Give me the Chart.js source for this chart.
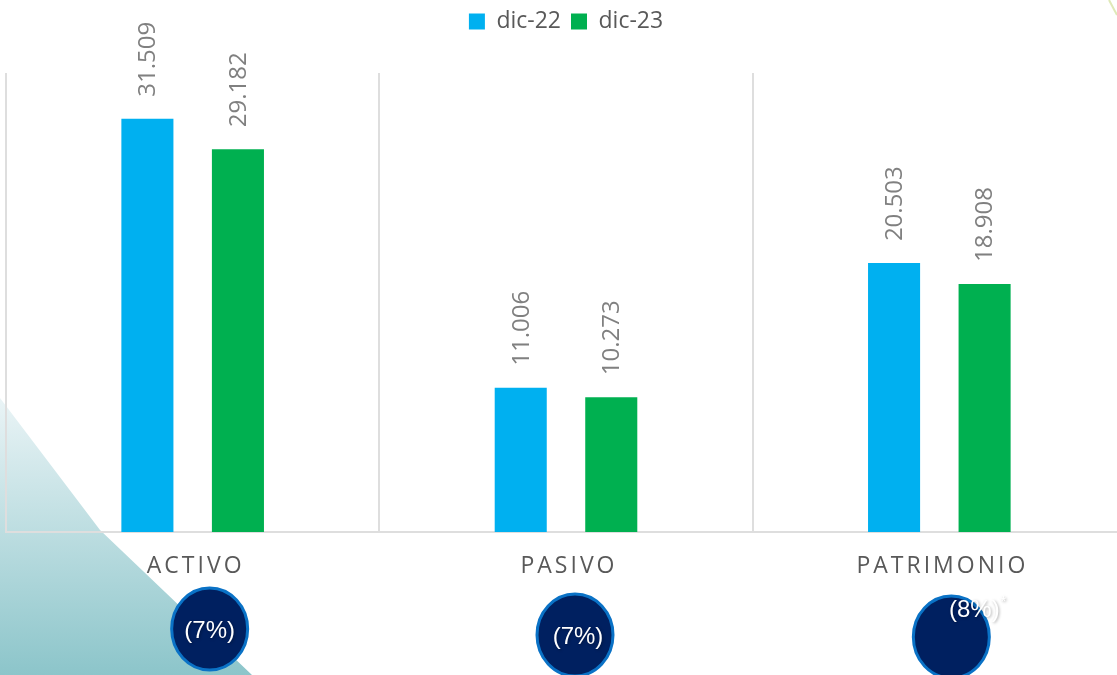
<!DOCTYPE html>
<html>
<head>
<meta charset="utf-8">
<script src="https://cdn.jsdelivr.net/npm/chart.js@4.4.1/dist/chart.umd.min.js"></script>
<style>
  html, body { margin: 0; padding: 0; background: #fff; overflow: hidden; }
  #wrap { width: 1134px; height: 675px; }
</style>
</head>
<body>
<div id="wrap"><canvas id="balance-chart" width="1134" height="675"></canvas></div>
<script>
// Datos del grafico
const categorias = ['ACTIVO', 'PASIVO', 'PATRIMONIO'];
const dic22 = [31.509, 11.006, 20.503];
const dic23 = [29.182, 10.273, 18.908];
const variaciones = ['(7%)', '(7%)', '(8%)'];
const notas = ['', '', '*'];

// Fondo: triangulo degradado abajo a la izquierda
const fondoPlugin = {
  id: 'fondo',
  beforeDraw(chart) {
    const ctx = chart.ctx;
    ctx.save();
    const grad = ctx.createLinearGradient(0, 398, 0, 675);
    grad.addColorStop(0, '#eaf4f6');
    grad.addColorStop(1, '#8cc5ca');
    ctx.fillStyle = grad;
    ctx.beginPath();
    ctx.moveTo(0, 398);
    ctx.lineTo(100, 530);
    ctx.lineTo(252, 675);
    ctx.lineTo(0, 675);
    ctx.closePath();
    ctx.fill();
    // linea fina arriba a la derecha
    ctx.strokeStyle = '#dfe9b8';
    ctx.lineWidth = 2;
    ctx.beginPath();
    ctx.moveTo(1109, 0);
    ctx.lineTo(1117, 15);
    ctx.stroke();
    ctx.restore();
  }
};

// Espacio extra bajo la leyenda
const leyendaPlugin = {
  id: 'leyendaAlto',
  beforeInit(chart) {
    const fit = chart.legend.fit;
    chart.legend.fit = function() {
      fit.bind(chart.legend)();
      this.height = 73;
    };
  }
};

// Etiquetas de valor rotadas sobre cada barra
const etiquetasPlugin = {
  id: 'etiquetas',
  afterDatasetsDraw(chart) {
    const ctx = chart.ctx;
    ctx.save();
    ctx.font = '24px "Open Sans"';
    ctx.fillStyle = '#808080';
    ctx.textAlign = 'left';
    ctx.textBaseline = 'middle';
    chart.data.datasets.forEach((ds, i) => {
      chart.getDatasetMeta(i).data.forEach((bar, j) => {
        ctx.save();
        ctx.translate(bar.x, bar.y - 22);
        ctx.rotate(-Math.PI / 2);
        ctx.fillText(ds.data[j].toFixed(3), 0, 1);
        ctx.restore();
      });
    });
    ctx.restore();
  }
};

// Nombres de categoria y circulos de variacion
const categoriasPlugin = {
  id: 'categorias',
  afterDraw(chart) {
    const ctx = chart.ctx;
    const x = chart.scales.x;
    const base = chart.chartArea.bottom;
    ctx.save();
    ctx.font = '23px "Open Sans"';
    ctx.fillStyle = '#595959';
    ctx.textAlign = 'center';
    ctx.textBaseline = 'middle';
    ctx.letterSpacing = '3px';
    categorias.forEach((c, i) => {
      ctx.fillText(c, x.getPixelForValue(i) + 3, base + 34);
    });
    ctx.letterSpacing = '0px';

    const desplaz = [[17, 97, 0, 0], [9, 103, 3, 0], [12, 105, 23, -29]];
    variaciones.forEach((v, i) => {
      const d = desplaz[i];
      const cx = x.getPixelForValue(i) + d[0];
      const cy = base + d[1];
      ctx.beginPath();
      ctx.ellipse(cx, cy, 38, 41, 0, 0, Math.PI * 2);
      ctx.fillStyle = '#002060';
      ctx.fill();
      ctx.lineWidth = 3;
      ctx.strokeStyle = '#0a72c6';
      ctx.stroke();
    });
    ctx.font = '24px "Liberation Sans"';
    ctx.fillStyle = '#ffffff';
    ctx.shadowColor = 'rgba(0,0,0,0.35)';
    ctx.shadowBlur = 3;
    ctx.shadowOffsetX = 1;
    ctx.shadowOffsetY = 1;
    variaciones.forEach((v, i) => {
      const d = desplaz[i];
      const tx = x.getPixelForValue(i) + d[0] + d[2];
      const ty = base + d[1] + d[3] + 2;
      ctx.textAlign = 'center';
      ctx.fillText(v, tx, ty);
      if (notas[i]) {
        const w = ctx.measureText(v).width;
        ctx.font = '14px "Liberation Sans"';
        ctx.textAlign = 'left';
        ctx.fillText(notas[i], tx + w / 2 + 1, ty - 8);
        ctx.font = '24px "Liberation Sans"';
      }
    });
    ctx.restore();
  }
};

const ctx = document.getElementById('balance-chart').getContext('2d');
new Chart(ctx, {
  type: 'bar',
  data: {
    labels: categorias,
    datasets: [
      { label: 'dic-22', data: dic22, backgroundColor: '#00b0f0' },
      { label: 'dic-23', data: dic23, backgroundColor: '#00b050' }
    ]
  },
  options: {
    responsive: false,
    animation: false,
    categoryPercentage: 0.485,
    barPercentage: 0.575,
    layout: {
      padding: { top: 0, left: 6, right: 8, bottom: 143 }
    },
    plugins: {
      legend: {
        position: 'top',
        labels: {
          boxWidth: 16,
          boxHeight: 16,
          padding: 10,
          color: '#595959',
          font: { family: '"Open Sans"', size: 23 }
        }
      },
      tooltip: { enabled: false }
    },
    scales: {
      x: {
        grid: {
          display: true,
          offset: true,
          color: '#dedede',
          lineWidth: 2,
          drawTicks: false
        },
        border: { display: true, color: '#dedede', width: 2 },
        ticks: { display: false }
      },
      y: {
        display: false,
        min: 0,
        max: 35
      }
    }
  },
  plugins: [fondoPlugin, leyendaPlugin, etiquetasPlugin, categoriasPlugin]
});
</script>
</body>
</html>
